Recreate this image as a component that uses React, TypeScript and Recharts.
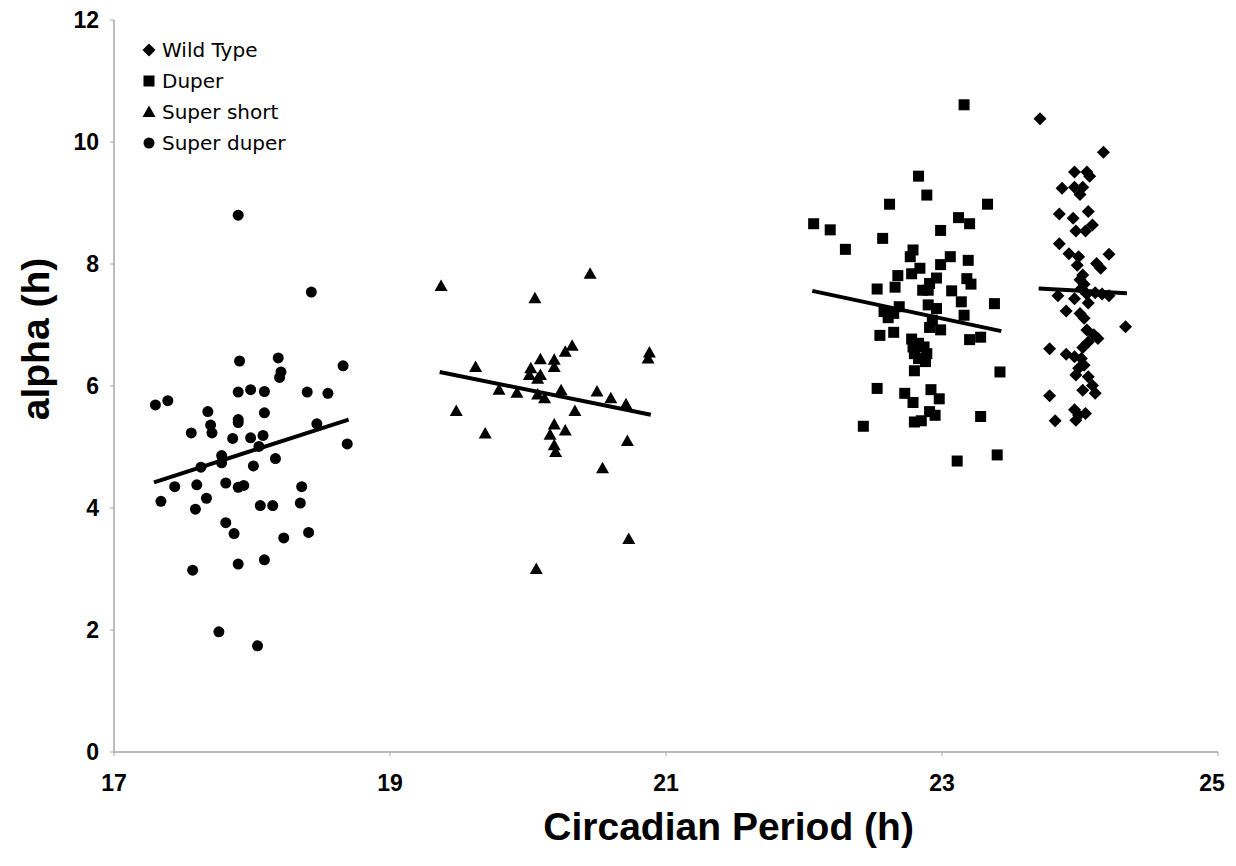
import React from 'react';
import { ScatterChart, Scatter, XAxis, YAxis, ReferenceLine, Legend, Label } from 'recharts';

const xTicks = [17, 19, 21, 23, 25];
const yTicks = [0, 2, 4, 6, 8, 10, 12];
const seriesNames = ['Wild Type', 'Duper', 'Super short', 'Super duper'];

const wildType: [number, number][] = [
  [23.71, 10.38], [24.17, 9.83], [23.96, 9.51], [24.05, 9.51], [24.07, 9.44], [23.87, 9.24],
  [23.96, 9.26], [24.02, 9.26], [24.0, 9.14], [23.85, 8.82], [24.06, 8.86], [23.95, 8.75],
  [24.09, 8.64], [23.97, 8.54], [24.04, 8.54], [23.85, 8.33], [23.92, 8.17], [23.99, 8.12],
  [24.21, 8.16], [23.98, 7.98], [24.12, 8.01], [24.15, 7.93], [24.02, 7.82], [24.0, 7.74],
  [24.03, 7.67], [24.01, 7.6], [23.84, 7.48], [23.96, 7.43], [24.05, 7.51], [24.11, 7.53],
  [24.16, 7.51], [24.21, 7.48], [24.06, 7.36], [23.9, 7.23], [24.0, 7.19], [24.03, 7.11],
  [24.33, 6.97], [24.05, 6.92], [24.1, 6.84], [24.13, 6.78], [23.78, 6.61], [24.06, 6.72],
  [24.02, 6.63], [23.9, 6.52], [23.96, 6.48], [24.01, 6.45], [24.03, 6.34], [23.99, 6.29],
  [23.97, 6.18], [24.06, 6.15], [24.09, 6.01], [24.02, 5.93], [24.11, 5.88], [23.78, 5.84],
  [23.96, 5.61], [23.99, 5.52], [24.04, 5.55], [23.82, 5.43], [23.97, 5.44],
];

const duper: [number, number][] = [
  [23.16, 10.61], [22.83, 9.44], [22.89, 9.13], [22.62, 8.98], [23.33, 8.98], [22.07, 8.66],
  [23.12, 8.76], [23.2, 8.66], [22.19, 8.56], [22.99, 8.55], [22.57, 8.42], [22.3, 8.24],
  [22.79, 8.23], [22.77, 8.12], [23.06, 8.12], [23.19, 8.06], [22.84, 7.93], [22.99, 7.99],
  [22.68, 7.81], [22.78, 7.84], [22.96, 7.77], [23.18, 7.76], [23.21, 7.67], [22.66, 7.62],
  [22.53, 7.59], [22.86, 7.57], [22.91, 7.68], [22.9, 7.57], [23.07, 7.56], [23.38, 7.35],
  [23.14, 7.38], [22.69, 7.3], [22.9, 7.33], [22.96, 7.27], [22.58, 7.22], [22.65, 7.19],
  [22.61, 7.12], [23.16, 7.16], [22.93, 7.08], [22.91, 6.96], [22.99, 6.92], [22.55, 6.83],
  [22.65, 6.88], [23.2, 6.76], [23.28, 6.8], [22.78, 6.77], [22.83, 6.7], [22.79, 6.64],
  [22.87, 6.64], [22.8, 6.53], [22.89, 6.53], [22.83, 6.45], [22.88, 6.4], [22.8, 6.25],
  [23.42, 6.23], [22.53, 5.96], [22.73, 5.88], [22.92, 5.94], [22.79, 5.73], [22.98, 5.79],
  [23.28, 5.5], [22.91, 5.58], [22.95, 5.52], [22.85, 5.43], [22.8, 5.41], [22.43, 5.34],
  [23.4, 4.87], [23.11, 4.77],
];

const superShort: [number, number][] = [
  [19.37, 7.64], [20.45, 7.84], [20.05, 7.44], [20.32, 6.66], [20.27, 6.56], [20.88, 6.55],
  [20.87, 6.45], [20.09, 6.44], [20.19, 6.43], [20.19, 6.31], [19.62, 6.31], [20.02, 6.29],
  [20.01, 6.18], [20.09, 6.18], [20.07, 6.12], [19.79, 5.94], [19.92, 5.89], [20.07, 5.86],
  [20.12, 5.8], [20.24, 5.93], [20.5, 5.91], [20.6, 5.8], [20.71, 5.7], [19.48, 5.59],
  [20.34, 5.59], [20.19, 5.37], [20.27, 5.27], [20.16, 5.2], [19.69, 5.22], [20.72, 5.1],
  [20.19, 5.03], [20.2, 4.92], [20.54, 4.65], [20.73, 3.49], [20.06, 3.0],
];

const superDuper: [number, number][] = [
  [17.9, 8.8], [18.43, 7.54], [17.91, 6.41], [18.19, 6.46], [18.21, 6.23], [18.2, 6.14],
  [18.66, 6.33], [17.9, 5.9], [17.99, 5.94], [18.09, 5.91], [18.4, 5.9], [18.55, 5.88],
  [17.3, 5.69], [17.39, 5.76], [17.68, 5.58], [18.09, 5.56], [17.9, 5.45], [17.9, 5.4],
  [17.7, 5.36], [17.71, 5.23], [17.56, 5.23], [17.86, 5.14], [17.99, 5.15], [18.08, 5.19],
  [18.47, 5.38], [18.69, 5.05], [17.78, 4.86], [18.05, 5.01], [17.78, 4.74], [17.63, 4.67],
  [18.01, 4.69], [18.17, 4.81], [17.44, 4.35], [17.6, 4.38], [17.81, 4.41], [17.9, 4.34],
  [17.94, 4.37], [18.36, 4.35], [17.34, 4.11], [17.59, 3.98], [17.67, 4.16], [18.06, 4.04],
  [18.15, 4.04], [18.35, 4.08], [17.81, 3.76], [17.87, 3.58], [18.23, 3.51], [18.41, 3.6],
  [17.57, 2.98], [17.9, 3.08], [18.09, 3.15], [17.76, 1.97], [18.04, 1.74],
];

const wildTypeTrend: [number, number][] = [[23.7, 7.6], [24.34, 7.52]];
const duperTrend: [number, number][] = [[22.06, 7.56], [23.43, 6.9]];
const superShortTrend: [number, number][] = [[19.36, 6.23], [20.89, 5.53]];
const superDuperTrend: [number, number][] = [[17.29, 4.42], [18.7, 5.45]];

const toPoints = (arr: [number, number][]) => arr.map(([x, y]) => ({ x, y }));
const toSegment = (arr: [number, number][]) => arr.map(([x, y]) => ({ x, y }));

const INK = '#000';
const AXIS = '#a6a6a6';
const BOLD_FONT = "'Liberation Sans', Arial, sans-serif";

const drawDiamond = (cx: number, cy: number) => (
  <path d={`M${cx},${cy - 6.5}L${cx + 6.5},${cy}L${cx},${cy + 6.5}L${cx - 6.5},${cy}Z`} fill={INK} />
);
const drawSquare = (cx: number, cy: number) => (
  <rect x={cx - 5.5} y={cy - 5.5} width={11} height={11} fill={INK} />
);
const drawTriangle = (cx: number, cy: number) => (
  <path d={`M${cx},${cy - 6.5}L${cx + 6.5},${cy + 5}L${cx - 6.5},${cy + 5}Z`} fill={INK} />
);
const drawCircle = (cx: number, cy: number) => <circle cx={cx} cy={cy} r={5.5} fill={INK} />;

const drawers = [drawDiamond, drawSquare, drawTriangle, drawCircle];

const makeShape = (draw: (cx: number, cy: number) => React.ReactElement) => (props: any) => {
  if (props.cx == null || props.cy == null) return <g />;
  return draw(props.cx, props.cy);
};

const LegendContent = () => (
  <div style={{ fontFamily: "'DejaVu Sans', Verdana, sans-serif", fontSize: 20, color: '#000' }}>
    {seriesNames.map((name, i) => (
      <div key={name} style={{ display: 'flex', alignItems: 'center', height: 31 }}>
        <svg width={14} height={14} style={{ marginRight: 6 }}>
          {drawers[i](7, 7)}
        </svg>
        <span>{name}</span>
      </div>
    ))}
  </div>
);

const XTick = (props: any) => {
  const { x, y, payload } = props;
  const isLast = payload.value === xTicks[xTicks.length - 1];
  return (
    <text
      x={isLast ? x - 6 : x}
      y={y + 35}
      textAnchor="middle"
      fontFamily={BOLD_FONT}
      fontWeight="bold"
      fontSize={23}
      fill={INK}
    >
      {payload.value}
    </text>
  );
};

const YTick = (props: any) => {
  const { x, y, payload } = props;
  return (
    <text x={x} y={y + 8} textAnchor="end" fontFamily={BOLD_FONT} fontWeight="bold" fontSize={23} fill={INK}>
      {payload.value}
    </text>
  );
};

const XTitle = (props: any) => {
  const vb = props.viewBox || { x: 0, y: 0, width: 0, height: 0 };
  return (
    <text
      x={vb.x + vb.width * 0.5567}
      y={vb.y + 88}
      textAnchor="middle"
      fontFamily={BOLD_FONT}
      fontWeight="bold"
      fontSize={39}
      fill={INK}
    >
      Circadian Period (h)
    </text>
  );
};

const YTitle = (props: any) => {
  const vb = props.viewBox || { x: 0, y: 0, width: 0, height: 0 };
  const x = vb.x - 19;
  const y = vb.y + 319;
  return (
    <text
      x={x}
      y={y}
      transform={`rotate(-90, ${x}, ${y})`}
      textAnchor="middle"
      dominantBaseline="central"
      fontFamily={BOLD_FONT}
      fontWeight="bold"
      fontSize={39}
      fill={INK}
    >
      alpha (h)
    </text>
  );
};

export default function App() {
  const series = [
    { name: seriesNames[0], data: toPoints(wildType), draw: drawDiamond },
    { name: seriesNames[1], data: toPoints(duper), draw: drawSquare },
    { name: seriesNames[2], data: toPoints(superShort), draw: drawTriangle },
    { name: seriesNames[3], data: toPoints(superDuper), draw: drawCircle },
  ];
  const trends = [wildTypeTrend, duperTrend, superShortTrend, superDuperTrend];

  return (
    <div style={{ width: 1220, height: 846, background: '#fff' }}>
      <ScatterChart width={1220} height={846} margin={{ top: 12, right: 10, bottom: 62, left: 46 }}>
        <XAxis
          type="number"
          dataKey="x"
          domain={[17, 25]}
          ticks={xTicks}
          allowDataOverflow
          height={40}
          tick={<XTick />}
          tickSize={4}
          tickMargin={0}
          axisLine={{ stroke: AXIS, strokeWidth: 1.5 }}
          tickLine={{ stroke: AXIS }}
        >
          <Label content={<XTitle />} />
        </XAxis>
        <YAxis
          type="number"
          dataKey="y"
          domain={[0, 12]}
          ticks={yTicks}
          allowDataOverflow
          width={60}
          tick={<YTick />}
          tickSize={4}
          tickMargin={11}
          axisLine={{ stroke: AXIS, strokeWidth: 1.5 }}
          tickLine={{ stroke: AXIS }}
        >
          <Label content={<YTitle />} />
        </YAxis>
        <Legend
          layout="vertical"
          align="center"
          verticalAlign="middle"
          content={<LegendContent />}
          wrapperStyle={{ top: 26, left: 134, width: 200, height: 130 }}
        />
        {series.map((s) => (
          <Scatter
            key={s.name}
            name={s.name}
            data={s.data}
            fill={INK}
            shape={makeShape(s.draw)}
            isAnimationActive={false}
          />
        ))}
        {trends.map((t, i) => (
          <ReferenceLine
            key={`trend-${i}`}
            segment={toSegment(t)}
            stroke={INK}
            strokeWidth={4}
          />
        ))}
      </ScatterChart>
    </div>
  );
}
